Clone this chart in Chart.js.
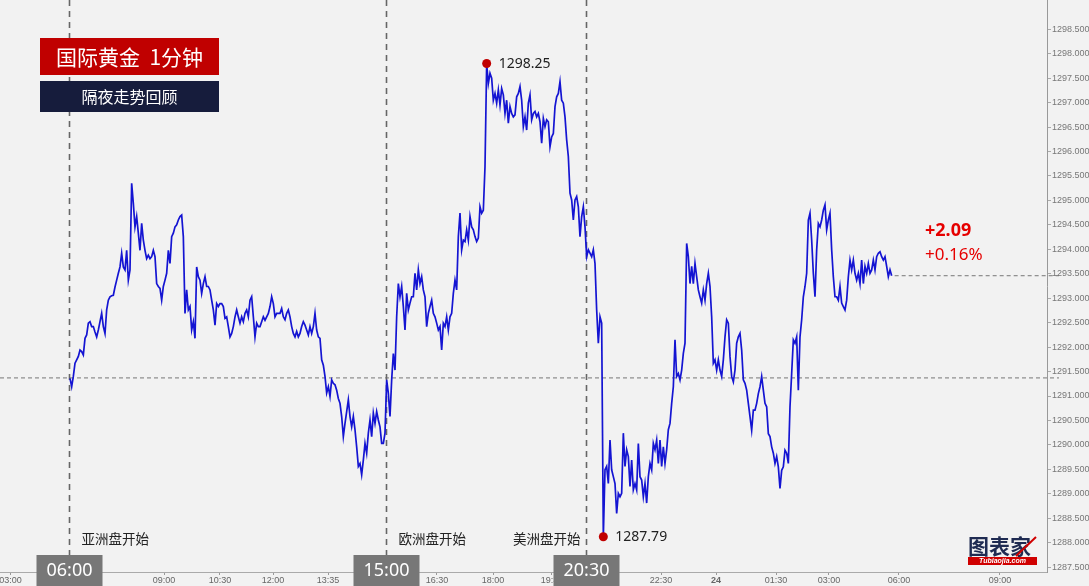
<!DOCTYPE html>
<html>
<head>
<meta charset="utf-8">
<script src="https://cdn.jsdelivr.net/npm/chart.js@4.4.1/dist/chart.umd.min.js"></script>
<style>
  html, body { margin: 0; padding: 0; background: #f2f2f2; }
  #wrap { width: 1089px; height: 586px; position: relative; }
</style>
</head>
<body>
<div id="wrap"><canvas id="chart"></canvas></div>
<script>
// 1-minute gold prices, overnight (one value per sample)
const prices = [
  1291.36,1291.19,1291.40,1291.67,1291.74,1291.81,1291.94,1291.91,1291.84,1292.18,
  1292.25,1292.49,1292.52,1292.42,1292.42,1292.31,1292.21,1292.35,1292.52,1292.69,
  1292.42,1292.28,1292.76,1292.96,1293.03,1293.05,1293.06,1293.23,1293.37,1293.51,
  1293.64,1293.92,1293.64,1293.58,1293.98,1293.37,1293.58,1295.35,1294.94,1294.46,
  1294.67,1294.33,1293.98,1294.53,1294.19,1293.98,1293.81,1293.88,1293.81,1293.85,
  1293.98,1293.85,1293.30,1293.24,1293.20,1292.96,1293.24,1293.37,1293.51,1293.98,
  1293.71,1294.26,1294.33,1294.46,1294.50,1294.60,1294.67,1294.70,1294.26,1292.69,
  1293.17,1292.76,1292.83,1292.35,1292.52,1292.18,1293.64,1293.44,1293.37,1293.10,
  1293.30,1293.44,1293.24,1293.24,1293.17,1292.96,1292.76,1292.45,1292.89,1292.83,
  1292.89,1292.89,1292.83,1292.59,1292.62,1292.42,1292.21,1292.28,1292.42,1292.62,
  1292.76,1292.62,1292.49,1292.62,1292.52,1292.69,1292.76,1292.62,1292.96,1293.03,
  1292.62,1292.21,1292.49,1292.42,1292.42,1292.52,1292.62,1292.55,1292.62,1292.69,
  1292.83,1293.03,1292.89,1292.62,1292.69,1292.69,1292.69,1292.79,1292.62,1292.56,
  1292.69,1292.76,1292.62,1292.42,1292.28,1292.21,1292.32,1292.21,1292.28,1292.42,
  1292.52,1292.45,1292.35,1292.25,1292.42,1292.28,1292.42,1292.69,1292.35,1292.21,
  1292.18,1291.74,1291.63,1291.40,1291.06,1291.19,1290.99,1291.33,1291.26,1291.23,
  1291.12,1290.95,1290.85,1290.58,1290.17,1290.44,1290.68,1290.92,1290.58,1290.37,
  1290.58,1290.31,1289.96,1289.56,1289.62,1289.39,1289.69,1290.03,1289.83,1290.24,
  1290.51,1290.17,1290.65,1290.44,1290.68,1290.51,1290.37,1290.03,1290.03,1290.24,
  1291.33,1291.06,1290.58,1291.33,1291.87,1291.53,1292.62,1293.30,1293.03,1293.24,
  1292.83,1292.35,1293.10,1292.76,1292.90,1293.03,1293.03,1293.51,1293.17,1293.58,
  1293.30,1293.44,1293.17,1293.03,1292.42,1292.69,1292.83,1292.96,1292.69,1292.62,
  1292.49,1292.35,1292.42,1291.94,1292.49,1292.42,1292.62,1292.35,1292.62,1292.69,
  1293.10,1293.37,1293.17,1294.26,1294.74,1293.99,1294.19,1294.16,1294.40,1294.19,
  1294.67,1294.46,1294.40,1294.26,1294.16,1294.23,1294.87,1294.74,1294.80,1295.69,
  1297.80,1297.39,1297.60,1297.50,1297.05,1297.19,1296.99,1297.26,1296.95,1297.29,
  1297.16,1296.78,1297.05,1296.58,1296.92,1296.78,1296.71,1296.75,1297.12,1297.19,
  1297.33,1297.05,1296.51,1296.71,1296.44,1296.99,1297.16,1296.65,1296.78,1296.82,
  1296.71,1296.78,1296.61,1296.17,1296.68,1296.51,1296.65,1296.61,1296.10,1296.30,
  1296.37,1296.92,1297.12,1297.19,1297.43,1297.05,1296.99,1296.71,1296.24,1295.90,
  1295.15,1295.01,1294.60,1295.01,1295.08,1294.87,1294.26,1294.67,1294.87,1294.46,
  1293.85,1293.99,1293.92,1293.85,1293.99,1293.71,1292.76,1292.08,1292.62,1292.49,
  1288.12,1289.49,1289.56,1289.21,1290.10,1289.49,1289.35,1289.21,1288.60,1289.01,
  1288.94,1289.01,1290.24,1289.56,1289.90,1289.76,1289.15,1289.69,1289.08,1289.21,
  1289.08,1290.03,1289.35,1289.28,1288.94,1289.21,1288.81,1289.35,1289.62,1289.49,
  1290.03,1289.90,1290.10,1289.62,1290.10,1289.56,1289.96,1289.62,1289.90,1290.31,
  1290.44,1290.85,1291.19,1292.15,1291.40,1291.46,1291.33,1291.53,1291.87,1292.08,
  1294.12,1293.85,1293.30,1293.65,1293.30,1293.71,1293.44,1293.17,1293.03,1292.90,
  1293.17,1292.96,1293.30,1293.51,1293.24,1292.62,1291.67,1291.74,1291.53,1291.74,
  1291.53,1291.40,1291.74,1292.21,1292.56,1292.49,1291.81,1291.40,1291.29,1291.53,
  1292.08,1292.21,1292.28,1291.94,1291.33,1291.26,1291.12,1290.85,1290.58,1290.30,
  1290.71,1290.71,1290.85,1291.05,1291.19,1291.40,1291.12,1290.85,1290.78,1290.23,
  1290.17,1289.96,1289.83,1289.62,1289.76,1289.55,1289.11,1289.48,1289.55,1289.89,
  1289.83,1289.62,1290.78,1291.46,1292.15,1292.08,1292.21,1291.12,1292.21,1292.56,
  1293.03,1293.24,1293.51,1294.60,1294.74,1294.19,1293.51,1293.03,1293.99,1294.53,
  1294.46,1294.60,1294.80,1294.91,1294.40,1294.60,1294.74,1293.99,1293.44,1293.03,
  1293.03,1292.96,1293.24,1292.90,1292.83,1292.76,1292.96,1293.44,1293.78,1293.58,
  1293.78,1293.51,1293.37,1293.51,1293.30,1293.78,1293.30,1293.65,1293.51,1293.71,
  1293.51,1293.58,1293.78,1293.58,1293.85,1293.92,1293.95,1293.85,1293.78,1293.85,
  1293.65,1293.44,1293.58,1293.46
];
const prevClose = 1291.37;

// x axis labels (sample positions) - not evenly spaced in the source
const xTickPos = [-35.7, 56.4, 90, 121.8, 154.8, 220.2, 253.8, 289.2, 354.6, 387.6, 423.6, 455.4, 497.4, 558];
const xTickLabels = ['03:00', '09:00', '10:30', '12:00', '13:35', '16:30', '18:00', '19:30', '22:30', '24', '01:30', '03:00', '06:00', '09:00'];

// trading session starts
const sessionPos = [-0.6, 189.6, 309.6];
const sessionTimes = ['06:00', '15:00', '20:30'];
const sessionNames = ['亚洲盘开始', '欧洲盘开始', '美洲盘开始'];
const sessionAlign = ['left', 'left', 'right'];

const highLabel = '1298.25';
const lowLabel = '1287.79';
const titleText = '国际黄金  1分钟';
const subTitleText = '隔夜走势回顾';

const X_MIN = -42, X_MAX = 586.2;
const Y_MIN = 1287.40, Y_MAX = 1299.10, Y_TOP_TICK = 1298.5;

const CJK = '"Noto Sans CJK SC", "Noto Sans", sans-serif';
const NUM = '"Noto Sans", "Open Sans", sans-serif';
const TICK = '"Liberation Sans", Arial, sans-serif';

function dashLine(ctx, x1, y1, x2, y2, dash, color, width) {
    ctx.save();
    ctx.setLineDash(dash);
    ctx.strokeStyle = color;
    ctx.lineWidth = width;
    ctx.beginPath();
    ctx.moveTo(x1, y1);
    ctx.lineTo(x2, y2);
    ctx.stroke();
    ctx.restore();
}

const overlay = {
    id: 'overlay',
    beforeDatasetsDraw(chart) {
        const { ctx, chartArea, scales: { x, y } } = chart;
        // previous close + last price levels
        const yPrev = y.getPixelForValue(prevClose);
        dashLine(ctx, 0, yPrev, chartArea.right + 12, yPrev, [4, 3], '#777', 1);
        const last = prices.length - 1;
        const yLast = y.getPixelForValue(prices[last]);
        dashLine(ctx, x.getPixelForValue(last) + 3, yLast, chartArea.right + 12, yLast, [4, 3], '#777', 1);
        // session lines
        sessionPos.forEach(p => {
            const px = Math.round(x.getPixelForValue(p)) + 0.5;
            dashLine(ctx, px, 0, px, 555, [6, 5], '#666', 1.6);
        });
    },
    afterDraw(chart) {
        const { ctx, chartArea, scales: { x, y } } = chart;
        ctx.save();

        // session boxes + names
        sessionPos.forEach((p, i) => {
            const px = Math.round(x.getPixelForValue(p)) + 0.5;
            ctx.fillStyle = '#777777';
            ctx.fillRect(px - 33, 555, 66, 31);
            ctx.fillStyle = '#ffffff';
            ctx.font = '18px ' + NUM;
            ctx.textAlign = 'center';
            ctx.textBaseline = 'middle';
            ctx.fillText(sessionTimes[i], px, 571);

            ctx.fillStyle = '#222';
            ctx.font = '13.5px ' + CJK;
            ctx.textAlign = sessionAlign[i];
            ctx.fillText(sessionNames[i], sessionAlign[i] === 'left' ? px + 12 : px - 6, 539);
        });

        // high / low markers
        let hi = 0, lo = 0;
        prices.forEach((v, i) => {
            if (v > prices[hi]) hi = i;
            if (v < prices[lo]) lo = i;
        });
        [[hi, highLabel], [lo, lowLabel]].forEach(([idx, label]) => {
            const px = x.getPixelForValue(idx);
            const py = y.getPixelForValue(prices[idx]);
            ctx.fillStyle = '#c00000';
            ctx.beginPath();
            ctx.arc(px, py, 4.5, 0, Math.PI * 2);
            ctx.fill();
            ctx.fillStyle = '#222';
            ctx.font = '14px ' + NUM;
            ctx.textAlign = 'left';
            ctx.textBaseline = 'middle';
            ctx.fillText(label, px + 12, py);
        });

        // change vs previous close
        const change = prices[prices.length - 1] - prevClose;
        const pct = change / prevClose * 100;
        ctx.fillStyle = '#e60000';
        ctx.textAlign = 'left';
        ctx.textBaseline = 'middle';
        ctx.font = 'bold 18px ' + NUM;
        ctx.fillText((change >= 0 ? '+' : '') + change.toFixed(2), 925, 231);
        ctx.font = '17px ' + NUM;
        ctx.fillText((pct >= 0 ? '+' : '') + pct.toFixed(2) + '%', 925, 255);

        // title boxes
        ctx.fillStyle = '#c00000';
        ctx.fillRect(40, 38, 179, 37);
        ctx.fillStyle = '#161c3c';
        ctx.fillRect(40, 81, 179, 31);
        ctx.fillStyle = '#ffffff';
        ctx.textAlign = 'center';
        ctx.font = '21px ' + CJK;
        ctx.fillText(titleText, 129.5, 57);
        ctx.font = '16px ' + CJK;
        ctx.fillText(subTitleText, 129.5, 97);

        // logo
        ctx.fillStyle = '#1f2b52';
        ctx.font = 'bold 21px ' + CJK;
        ctx.textAlign = 'left';
        ctx.fillText('图表家', 968, 546);
        ctx.strokeStyle = '#d00000';
        ctx.lineWidth = 2;
        ctx.beginPath();
        ctx.moveTo(1016, 556);
        ctx.lineTo(1036, 537);
        ctx.stroke();
        ctx.fillStyle = '#d00000';
        ctx.fillRect(968, 557, 69, 8);
        ctx.fillStyle = '#ffffff';
        ctx.font = 'italic bold 7px ' + TICK;
        ctx.textAlign = 'center';
        ctx.fillText('Tubiaojia.com', 1002.5, 561.5);

        ctx.restore();
    }
};

new Chart(document.getElementById('chart'), {
    type: 'line',
    data: {
        datasets: [{
            data: prices.map((p, i) => ({ x: i, y: p })),
            borderColor: '#1414d2',
            borderWidth: 1.7,
            pointRadius: 0,
            tension: 0,
            fill: false
        }]
    },
    options: {
        responsive: true,
        maintainAspectRatio: false,
        animation: false,
        layout: { padding: 0 },
        plugins: { legend: { display: false }, tooltip: { enabled: false } },
        scales: {
            x: {
                type: 'linear',
                min: X_MIN,
                max: X_MAX,
                offset: false,
                afterBuildTicks: s => { s.ticks = xTickPos.map(v => ({ value: v })); },
                afterFit: s => { s.height = 14; s.paddingLeft = 0; s.paddingRight = 0; },
                ticks: {
                    autoSkip: false,
                    maxRotation: 0,
                    padding: 0,
                    color: '#666',
                    font: c => ({ size: 9, family: TICK, weight: xTickLabels[c.index] === '24' ? 'bold' : 'normal' }),
                    callback: (v, i) => xTickLabels[i]
                },
                grid: { drawOnChartArea: false, tickLength: 3, color: '#999' },
                border: { color: '#aaa' }
            },
            y: {
                position: 'right',
                min: Y_MIN,
                max: Y_MAX,
                afterBuildTicks: s => { s.ticks = s.ticks.filter(t => t.value <= Y_TOP_TICK + 1e-6); },
                afterFit: s => { s.width = 42; s.paddingTop = 0; s.paddingBottom = 0; },
                ticks: {
                    stepSize: 0.5,
                    includeBounds: false,
                    padding: 1,
                    color: '#777',
                    font: { size: 9, family: TICK },
                    callback: v => v.toFixed(3)
                },
                grid: { drawOnChartArea: false, tickLength: 4, color: '#aaa' },
                border: { color: '#999' }
            }
        }
    },
    plugins: [overlay]
});
</script>
</body>
</html>
